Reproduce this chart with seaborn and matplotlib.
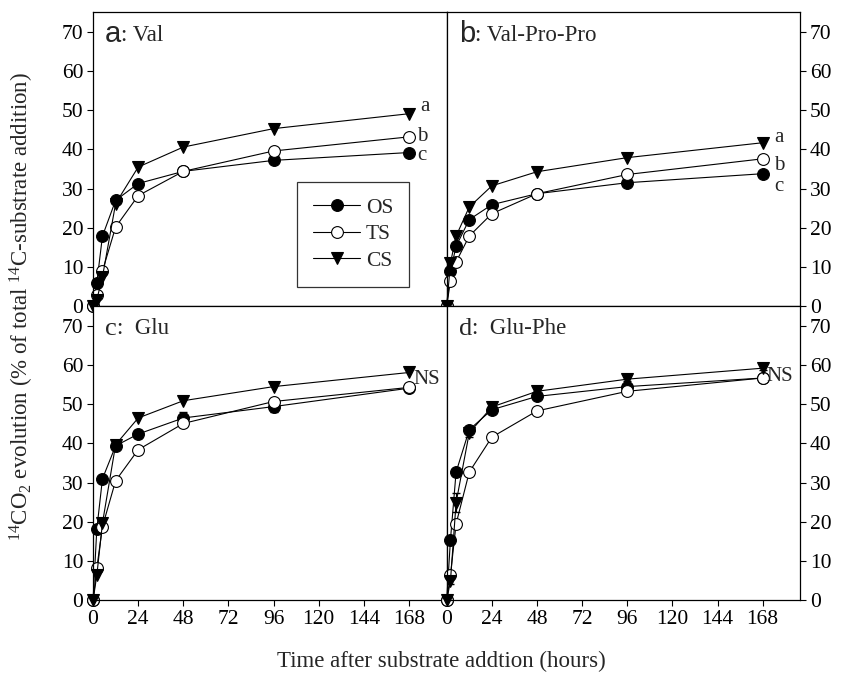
import numpy as np
import pandas as pd
import matplotlib
matplotlib.use('Agg')
import matplotlib.pyplot as plt
import seaborn as sns

# sampling times (hours)
hours = [0, 2, 5, 12, 24, 48, 96, 168]

# % of added 14C evolved as 14CO2
val_os = [0, 6.0, 17.9, 27.0, 31.3, 34.4, 37.2, 39.2]
val_ts = [0, 2.8, 9.0, 20.2, 28.2, 34.4, 39.6, 43.2]
val_cs = [0, 1.7, 7.5, 26.2, 35.5, 40.6, 45.3, 49.1]

vpp_os = [0, 8.9, 15.3, 22.1, 25.9, 28.7, 31.5, 33.8]
vpp_ts = [0, 6.5, 11.3, 17.9, 23.6, 28.7, 33.6, 37.6]
vpp_cs = [0, 11.0, 17.9, 25.3, 30.7, 34.3, 37.9, 41.7]

glu_os = [0, 18.2, 31.0, 39.4, 42.4, 46.5, 49.4, 54.1]
glu_ts = [0, 8.2, 18.8, 30.5, 38.4, 45.1, 50.7, 54.3]
glu_cs = [0, 6.4, 19.7, 39.7, 46.5, 50.9, 54.5, 58.1]
glu_os_se = [0, 0.5, 0.5, 0.5, 1.0, 1.5, 1.5, 0.5]

gp_os = [0, 15.4, 32.7, 43.5, 48.6, 52.0, 54.5, 56.7]
gp_ts = [0, 6.4, 19.5, 32.7, 41.6, 48.3, 53.3, 56.7]
gp_cs = [0, 4.9, 24.9, 42.7, 49.3, 53.3, 56.4, 59.2]
gp_cs_se = [0, 0.8, 2.5, 1.0, 0.5, 0.5, 0.5, 0.5]

treatments = ['OS', 'TS', 'CS']
panel_letters = ['a', 'b', 'c', 'd']
panel_names = [': Val', ': Val-Pro-Pro', ':  Glu', ':  Glu-Phe']
sig_labels = [['a', 'b', 'c'], ['a', 'b', 'c'], ['NS'], ['NS']]

sns.set_style('ticks')
plt.rcParams['font.family'] = ['Liberation Serif', 'DejaVu Serif']
plt.rcParams['mathtext.fontset'] = 'custom'
plt.rcParams['mathtext.rm'] = 'Liberation Serif'
plt.rcParams['mathtext.it'] = 'Liberation Serif:italic'

fig, axes = plt.subplots(2, 2, figsize=(8.46, 6.76), dpi=100)
fig.subplots_adjust(left=0.110, right=0.946, top=0.982, bottom=0.112,
                    wspace=0, hspace=0)

panels = [
    (val_os, val_ts, val_cs),
    (vpp_os, vpp_ts, vpp_cs),
    (glu_os, glu_ts, glu_cs),
    (gp_os, gp_ts, gp_cs),
]
styles = {
    'OS': dict(marker='o', markerfacecolor='black'),
    'TS': dict(marker='o', markerfacecolor='white'),
    'CS': dict(marker='v', markerfacecolor='black'),
}

for i, ax in enumerate(axes.flat):
    os_, ts_, cs_ = panels[i]
    df = pd.DataFrame({'Time': hours * 3,
                       'CO2': os_ + ts_ + cs_,
                       'Soil': np.repeat(treatments, len(hours))})
    # error bars where visible
    if i == 2:
        ax.errorbar(hours, glu_os, yerr=glu_os_se, fmt='none', ecolor='black',
                    elinewidth=0.8, capsize=3, zorder=1)
    if i == 3:
        ax.errorbar(hours, gp_cs, yerr=gp_cs_se, fmt='none', ecolor='black',
                    elinewidth=0.8, capsize=3, zorder=1)
    for t in treatments:
        sub = df[df['Soil'] == t]
        sns.lineplot(data=sub, x='Time', y='CO2', ax=ax, color='black',
                     lw=0.8, markersize=8.5,
                     markeredgecolor='black', markeredgewidth=0.8,
                     label=t, legend=False, clip_on=False, **styles[t])

    ax.set_xlim(0, 188)
    ax.set_ylim(0, 75)
    ax.set_xticks(range(0, 169, 24))
    ax.set_yticks(range(0, 71, 10))
    ax.set_xlabel('')
    ax.set_ylabel('')
    for sp in ax.spines.values():
        sp.set_visible(True)
        sp.set_linewidth(0.9)
        sp.set_color('black')
    ax.tick_params(direction='out', length=4, width=0.8, labelsize=15.5,
                   colors='black', pad=3)
    if i < 2:
        ax.tick_params(axis='x', labelbottom=False)
    if i % 2 == 1:
        ax.yaxis.tick_right()
        ax.tick_params(axis='y', left=False, right=True)
    elif i == 2:
        ax.tick_params(axis='y', right=True, labelright=False)

    # panel title: letter + substrate name
    letter_font = 'Liberation Sans' if i < 2 else 'Liberation Serif'
    lt = ax.text(0.034, 0.975 if i < 2 else 0.96, panel_letters[i],
                 transform=ax.transAxes,
                 fontsize=21 if i < 2 else 19, family=letter_font,
                 va='top', ha='left')
    ax.annotate(panel_names[i], xy=(1, 0.05), xycoords=lt, va='bottom',
                ha='left', fontsize=16.5)

    # significance letters at 168 h
    if len(sig_labels[i]) == 3:
        ends = [cs_[-1], ts_[-1], os_[-1]]
        offs = [(8, 5), (6, 0), (6, -2)] if i == 0 else [(8, 4), (8, -5), (8, -9)]
        for lab, yv, off in zip(sig_labels[i], ends, offs):
            ax.annotate(lab, xy=(hours[-1], yv), xytext=off,
                        textcoords='offset points', fontsize=15,
                        va='center', ha='left')
    else:
        top = max(os_[-1], ts_[-1], cs_[-1])
        ax.annotate('NS', xy=(hours[-1], top), xytext=(3, -5 if i == 2 else -6),
                    textcoords='offset points', fontsize=15,
                    va='center', ha='left')

# legend inside panel a
leg = axes[0, 0].legend(loc='lower left', bbox_to_anchor=(0.576, 0.065),
                        borderaxespad=0, fontsize=15.5, frameon=True,
                        fancybox=False, edgecolor='black', handlelength=2.2,
                        labelspacing=0.3, borderpad=0.75, handletextpad=0.25)
leg.get_frame().set_linewidth(0.9)

fig.text(0.026, 0.546,
         r'$^{14}$CO$_2$ evolution (% of total $^{14}$C-substrate addition)',
         rotation=90, va='center', ha='center', fontsize=16.5)
fig.text(0.522, 0.021, 'Time after substrate addtion (hours)',
         va='center', ha='center', fontsize=16.5)

fig.savefig('out.png', dpi=100)
